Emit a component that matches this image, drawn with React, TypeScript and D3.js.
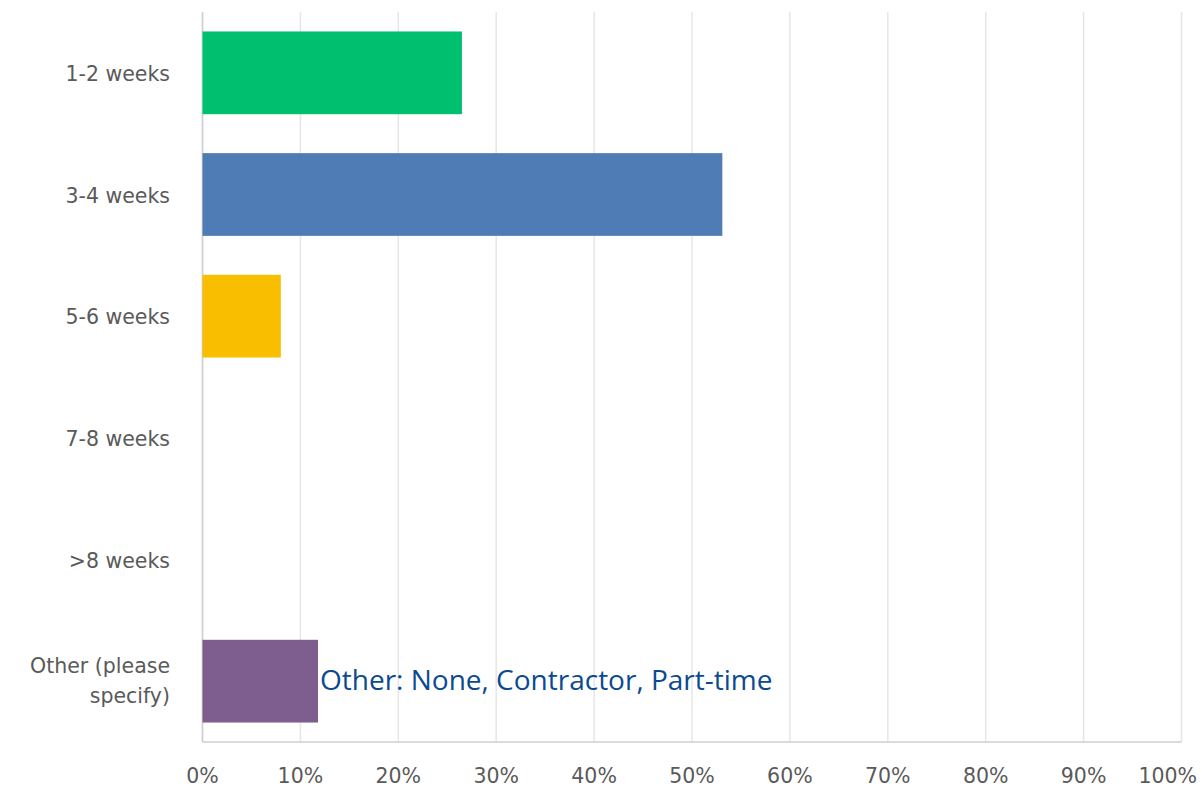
import React from "react";
import * as d3 from "d3";

const categories = ["1-2 weeks", "3-4 weeks", "5-6 weeks", "7-8 weeks", ">8 weeks", "Other (please specify)"];
const values = [26.5, 53.1, 8.0, 0, 0, 11.8];
const colors = ["#00bf6f", "#507cb6", "#f9be00", "#6bc8cd", "#f05b24", "#7d5e8e"];
const ticks = [0, 10, 20, 30, 40, 50, 60, 70, 80, 90, 100];
const annotation = "Other: None, Contractor, Part-time";

export default function App() {
  const W = 1202, H = 790;
  const x = d3.scaleLinear().domain([0, 100]).range([202.5, 1181.5]);
  const y = d3.scaleBand<string>().domain(categories).range([12, 742]).paddingInner(0.32).paddingOuter(0.16);
  const labelFont = "'DejaVu Sans', sans-serif";
  return (
    <svg width={W} height={H} style={{ position: "absolute", left: 0, top: 0, background: "#fff" }}>
      {ticks.map((t) => (
        <line key={"g" + t} x1={x(t)} x2={x(t)} y1={12} y2={742} stroke="#e6e6e6" strokeWidth={1.5} />
      ))}
      <line x1={x(0)} x2={x(0)} y1={12} y2={742} stroke="#cfcfcf" strokeWidth={1.5} />
      <line x1={x(0)} x2={x(100)} y1={742} y2={742} stroke="#cfcfcf" strokeWidth={1.5} />
      {categories.map((c, i) => (
        <rect key={c} x={x(0)} y={y(c)} width={x(values[i]) - x(0)} height={y.bandwidth()} fill={colors[i]} />
      ))}
      {categories.map((c) => {
        const cy = (y(c) as number) + y.bandwidth() / 2;
        const words = c === "Other (please specify)" ? ["Other (please", "specify)"] : [c];
        return (
          <text key={"l" + c} x={170} y={cy} textAnchor="end" fontFamily={labelFont} fontSize={20.5} fill="#5a5a5a">
            {words.map((w, k) => (
              <tspan key={k} x={170} dy={k === 0 ? (words.length === 1 ? 8 : -8) : 30}>{w}</tspan>
            ))}
          </text>
        );
      })}
      {ticks.map((t) => (
        <text key={"t" + t} x={t === 100 ? 1197 : x(t)} y={783} textAnchor={t === 100 ? "end" : "middle"}
          fontFamily={labelFont} fontSize={20.5} fill="#5a5a5a">
          {t + "%"}
        </text>
      ))}
      <text x={x(values[5]) + 2} y={690}
        fontFamily="'Open Sans', sans-serif" fontSize={28} fill="#0b4a91">
        {annotation}
      </text>
    </svg>
  );
}
